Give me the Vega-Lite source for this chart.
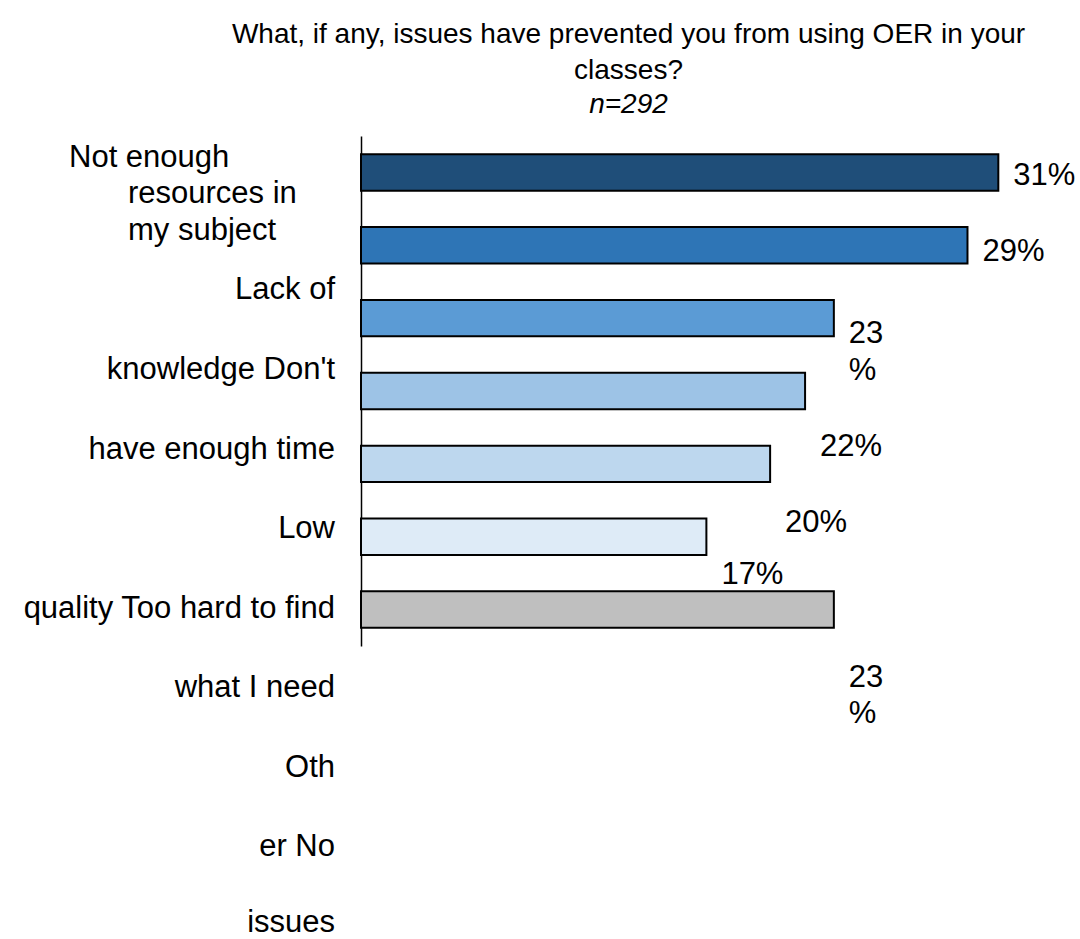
{
  "$schema": "https://vega.github.io/schema/vega-lite/v6.json",
  "autosize": {"type": "none"},
  "padding": {"left": 361, "top": 136, "right": 20, "bottom": 293},
  "width": 699,
  "height": 510,
  "background": "white",
  "config": {"view": {"stroke": null}, "font": "Liberation Sans"},
  "title": {
    "text": ["What, if any, issues have prevented you from using OER in your", "classes?"],
    "subtitle": "n=292",
    "font": "Liberation Sans",
    "fontSize": 28,
    "fontWeight": "normal",
    "color": "black",
    "lineHeight": 36.5,
    "subtitleFont": "Liberation Sans",
    "subtitleFontSize": 28,
    "subtitleFontStyle": "italic",
    "subtitleColor": "black",
    "subtitlePadding": 6,
    "anchor": "middle",
    "dx": -82,
    "offset": 17
  },
  "datasets": {
    "bars": [
      {"issue": "Not enough resources in my subject", "pct": 31.0},
      {"issue": "Lack of knowledge", "pct": 29.5},
      {"issue": "Don't have enough time", "pct": 23.0},
      {"issue": "Low quality", "pct": 21.6},
      {"issue": "Too hard to find what I need", "pct": 19.9},
      {"issue": "Other", "pct": 16.8},
      {"issue": "No issues", "pct": 23.0}
    ],
    "valueLabels": [
      {"text": "31%", "pct": 31.0, "row": 0.1725},
      {"text": "29%", "pct": 29.5, "row": 1.216},
      {"text": "23", "pct": 23.0, "row": 2.341},
      {"text": "%", "pct": 23.0, "row": 2.849},
      {"text": "22%", "pct": 21.6, "row": 3.892},
      {"text": "20%", "pct": 19.9, "row": 4.935},
      {"text": "17%", "pct": 16.8, "row": 5.649},
      {"text": "23", "pct": 23.0, "row": 7.063},
      {"text": "%", "pct": 23.0, "row": 7.557}
    ],
    "leftRight": [
      {"text": "Lack of", "row": 1.744},
      {"text": "knowledge Don't", "row": 2.837},
      {"text": "have enough time", "row": 3.928},
      {"text": "Low", "row": 5.020},
      {"text": "quality Too hard to find", "row": 6.112},
      {"text": "what I need", "row": 7.204},
      {"text": "Oth", "row": 8.297},
      {"text": "er No", "row": 9.388},
      {"text": "issues", "row": 10.43}
    ],
    "leftBlock": [
      {"text": "resources in", "row": 0.424},
      {"text": "my subject", "row": 0.927}
    ],
    "leftFirst": [
      {"text": "Not enough", "row": -0.079}
    ]
  },
  "layer": [
    {
      "data": {"name": "bars"},
      "mark": {"type": "bar", "stroke": "black", "strokeWidth": 2},
      "encoding": {
        "y": {
          "field": "issue",
          "type": "nominal",
          "sort": null,
          "scale": {"paddingInner": 0.5, "paddingOuter": 0.25},
          "axis": {"title": null, "labels": false, "ticks": false, "domainColor": "black", "domainWidth": 1.5}
        },
        "x": {
          "field": "pct",
          "type": "quantitative",
          "scale": {"domain": [0, 34], "nice": false},
          "axis": null
        },
        "color": {
          "field": "issue",
          "type": "nominal",
          "sort": null,
          "scale": {
            "domain": ["Not enough resources in my subject", "Lack of knowledge", "Don't have enough time", "Low quality", "Too hard to find what I need", "Other", "No issues"],
            "range": ["#1F4E79", "#2E75B6", "#5B9BD5", "#9DC3E6", "#BDD7EE", "#DEEBF7", "#BFBFBF"]
          },
          "legend": null
        }
      }
    },
    {
      "data": {"name": "valueLabels"},
      "mark": {"type": "text", "align": "left", "baseline": "alphabetic", "dx": 15, "fontSize": 31, "color": "black"},
      "encoding": {
        "x": {"field": "pct", "type": "quantitative"},
        "y": {"field": "row", "type": "quantitative", "scale": {"domain": [-0.5, 6.5], "reverse": true, "nice": false, "zero": false}, "axis": null},
        "text": {"field": "text"}
      }
    },
    {
      "data": {"name": "leftRight"},
      "mark": {"type": "text", "align": "right", "baseline": "alphabetic", "dx": -26, "fontSize": 31, "color": "black"},
      "encoding": {
        "x": {"datum": 0, "type": "quantitative"},
        "y": {"field": "row", "type": "quantitative", "scale": {"domain": [-0.5, 6.5], "reverse": true, "nice": false, "zero": false}, "axis": null},
        "text": {"field": "text"}
      }
    },
    {
      "data": {"name": "leftBlock"},
      "mark": {"type": "text", "align": "left", "baseline": "alphabetic", "dx": -233, "fontSize": 31, "color": "black"},
      "encoding": {
        "x": {"datum": 0, "type": "quantitative"},
        "y": {"field": "row", "type": "quantitative", "scale": {"domain": [-0.5, 6.5], "reverse": true, "nice": false, "zero": false}, "axis": null},
        "text": {"field": "text"}
      }
    },
    {
      "data": {"name": "leftFirst"},
      "mark": {"type": "text", "align": "left", "baseline": "alphabetic", "dx": -292, "fontSize": 31, "color": "black"},
      "encoding": {
        "x": {"datum": 0, "type": "quantitative"},
        "y": {"field": "row", "type": "quantitative", "scale": {"domain": [-0.5, 6.5], "reverse": true, "nice": false, "zero": false}, "axis": null},
        "text": {"field": "text"}
      }
    }
  ],
  "resolve": {"scale": {"y": "independent"}}
}
